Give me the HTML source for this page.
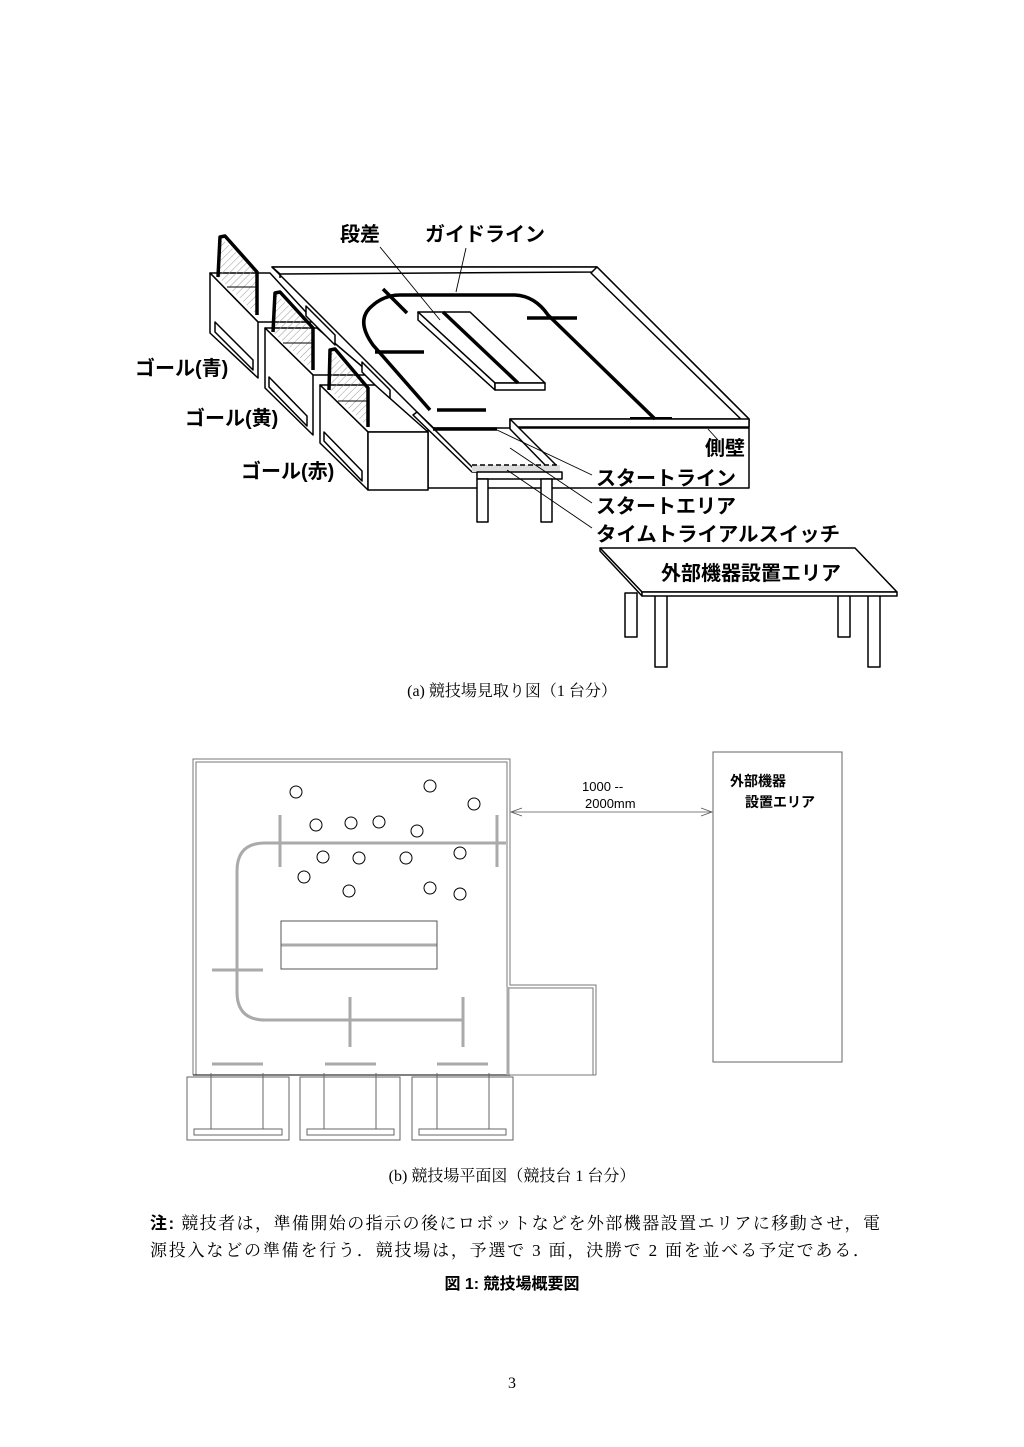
<!DOCTYPE html>
<html><head><meta charset="utf-8"><style>
body{margin:0;background:#fff;}
svg{display:block;}
.g{font-family:"Liberation Sans","Noto Sans CJK JP",sans-serif;font-weight:bold;}
.s{font-family:"Liberation Serif","Noto Serif CJK SC",serif;}
</style></head><body>
<svg width="1024" height="1447" viewBox="0 0 1024 1447" xmlns="http://www.w3.org/2000/svg">
<defs>
<pattern id="h" width="5" height="5" patternUnits="userSpaceOnUse" patternTransform="rotate(45)">
<line x1="0" y1="0" x2="0" y2="5" stroke="#999" stroke-width="1"/></pattern>
</defs>
<g fill="#fff" stroke="#000" stroke-width="1.5" stroke-linejoin="round">
<polygon points="272,267 597,267 749,419 510,419 548,463 472,465 417,412 280,275"/>
<polygon points="272,267 597,267 597,272 280,274"/>
<line x1="280" y1="274" x2="280" y2="278"/>
<polygon points="597,267 749,419 749,427 591,273"/>
<rect x="428" y="428" width="321" height="60"/>
<polygon points="510,419 749,419 749,427 515,427"/>
<line x1="510" y1="419" x2="510" y2="427"/>
<polygon points="417,412 477,472 472,472 413,415"/>
<polygon points="510,419 556,465 548,468 510,429"/>
<rect x="472" y="465" width="88" height="7" fill="#ddd" stroke="none"/>
<line x1="472" y1="465" x2="560" y2="465" stroke-dasharray="5,3"/>
<rect x="477" y="472" width="85" height="7"/>
<rect x="477" y="479" width="11" height="43"/>
<rect x="541" y="479" width="11" height="43"/>
<polygon points="418,312 470,312 545,383 495,383"/>
<polygon points="418,312 495,383 495,390 418,320"/>
<rect x="495" y="383" width="50" height="7"/>
</g>
<g fill="none" stroke="#000" stroke-width="3.5" stroke-linecap="butt">
<line x1="443" y1="312" x2="518" y2="383"/>
<path d="M430,410 L373,345 Q355,320 372,306 Q384,295 400,295 L515,295 Q535,296 548,315 L655,419"/>
<line x1="383" y1="289" x2="407" y2="313"/>
<line x1="375" y1="352" x2="424" y2="352"/>
<line x1="527" y1="318" x2="577" y2="318"/>
<line x1="437" y1="410" x2="486" y2="410"/>
<line x1="433" y1="429" x2="497" y2="429"/>
<line x1="630" y1="418" x2="672" y2="418" stroke-width="2"/>
</g>
<g fill="#fff" stroke="#000" stroke-width="1.5" stroke-linejoin="round">
<polygon points="210,273 270,273 315,322 258,322"/>
<polygon points="210,273 258,322 258,378 210,333"/>
<polygon points="215,322 253,360 253,370 215,332"/>
<polygon points="218,277 220,237 257,272 257,315" fill="url(#h)" stroke="none"/>
<polyline points="227,287 257,287" fill="none" stroke-width="1"/>
<polygon points="265,328 317,328 372,375 313,375"/>
<polygon points="265,328 313,375 313,435 265,388"/>
<polygon points="269,377 307,416 307,426 269,387"/>
<polygon points="273,332 275,293 313,328 313,370" fill="url(#h)" stroke="none"/>
<polyline points="283,343 313,343" fill="none" stroke-width="1"/>
<polygon points="306,306 335,335 335,345 306,316"/>
<polygon points="362,362 390,390 390,400 362,372"/>
<polygon points="320,385 375,385 428,432 368,432"/>
<polygon points="320,385 368,432 368,490 320,443"/>
<rect x="368" y="432" width="60" height="58"/>
<polygon points="324,432 362,471 362,481 324,441"/>
<polygon points="328,388 330,350 368,388 368,427" fill="url(#h)" stroke="none"/>
<polyline points="338,401 368,401" fill="none" stroke-width="1"/>
</g>
<g fill="none" stroke="#000" stroke-width="3.5" stroke-linejoin="round">
<polyline points="218,277 220,237 225,236 257,272 257,315"/>
<polyline points="273,332 275,293 280,292 313,328 313,370"/>
<polyline points="329,390 330,350 335,349 368,388 368,427"/>
</g>
<g stroke="#000" stroke-width="0.9">
<line x1="380" y1="247" x2="440" y2="320"/>
<line x1="466" y1="248" x2="456" y2="292"/>
<line x1="708" y1="429" x2="718" y2="440"/>
<line x1="497" y1="430" x2="592" y2="475"/>
<line x1="510" y1="448" x2="592" y2="503"/>
<line x1="507" y1="470" x2="592" y2="528"/>
</g>
<g class="g" font-size="20" fill="#000">
<text x="340" y="241">段差</text>
<text x="425" y="241">ガイドライン</text>
<text x="135" y="375">ゴール(青)</text>
<text x="185" y="425">ゴール(黄)</text>
<text x="241" y="478">ゴール(赤)</text>
<text x="705" y="455">側壁</text>
<text x="596" y="485">スタートライン</text>
<text x="596" y="513">スタートエリア</text>
<text x="596" y="541" textLength="244" lengthAdjust="spacingAndGlyphs">タイムトライアルスイッチ</text>
</g>
<g fill="#fff" stroke="#000" stroke-width="1.5" stroke-linejoin="round">
<rect x="625" y="593" width="12" height="44"/>
<rect x="838" y="593" width="12" height="44"/>
<rect x="655" y="595" width="12" height="72"/>
<rect x="868" y="595" width="12" height="72"/>
<polygon points="600,548 855,548 897,592 642,592"/>
<polygon points="600,548 642,592 642,596 600,551"/>
<rect x="642" y="592" width="255" height="4"/>
</g>
<text class="g" x="751" y="580" font-size="20" text-anchor="middle">外部機器設置エリア</text>
<text class="s" x="512" y="696" font-size="16" text-anchor="middle">(a) 競技場見取り図（1 台分）</text>

<g fill="none" stroke="#777" stroke-width="1">
<path d="M193,1075 L193,759 L510,759 L510,985 L596,985 L596,1075"/>
<path d="M196,1075 L196,762 L507,762 L507,988 L593,988 L593,1075"/>
<line x1="510" y1="1075" x2="596" y2="1075"/>
<line x1="193" y1="1075" x2="510" y2="1075" stroke="#000"/>
</g>
<g fill="none" stroke="#aaa" stroke-width="3">
<path d="M506,843 L265,843 Q237,843 237,871 L237,992 Q237,1020 265,1020 L463,1020"/>
<line x1="280" y1="815" x2="280" y2="867"/>
<line x1="497" y1="815" x2="497" y2="867"/>
<line x1="212" y1="970" x2="263" y2="970"/>
<line x1="350" y1="997" x2="350" y2="1047"/>
<line x1="463" y1="997" x2="463" y2="1047"/>
<line x1="281" y1="945" x2="437" y2="945"/>
<line x1="508" y1="987" x2="508" y2="1075"/>
<line x1="212" y1="1064" x2="263" y2="1064"/>
<line x1="325" y1="1064" x2="376" y2="1064"/>
<line x1="437" y1="1064" x2="488" y2="1064"/>
</g>
<rect x="281" y="921" width="156" height="48" fill="none" stroke="#555" stroke-width="1"/>
<g fill="none" stroke="#000" stroke-width="1">
<circle cx="296" cy="792" r="6"/><circle cx="430" cy="786" r="6"/><circle cx="474" cy="804" r="6"/>
<circle cx="316" cy="825" r="6"/><circle cx="351" cy="823" r="6"/><circle cx="379" cy="822" r="6"/>
<circle cx="417" cy="831" r="6"/><circle cx="323" cy="857" r="6"/><circle cx="359" cy="858" r="6"/>
<circle cx="406" cy="858" r="6"/><circle cx="460" cy="853" r="6"/><circle cx="304" cy="877" r="6"/>
<circle cx="349" cy="891" r="6"/><circle cx="430" cy="888" r="6"/><circle cx="460" cy="894" r="6"/>
</g>
<g fill="none" stroke="#666" stroke-width="1">
<rect x="187" y="1077" width="102" height="63"/>
<rect x="300" y="1077" width="100" height="63"/>
<rect x="412" y="1077" width="101" height="63"/>
<line x1="211" y1="1073" x2="211" y2="1129"/><line x1="263" y1="1073" x2="263" y2="1129"/>
<line x1="324" y1="1073" x2="324" y2="1129"/><line x1="376" y1="1073" x2="376" y2="1129"/>
<line x1="437" y1="1073" x2="437" y2="1129"/><line x1="489" y1="1073" x2="489" y2="1129"/>
<rect x="194" y="1129" width="88" height="6"/>
<rect x="307" y="1129" width="87" height="6"/>
<rect x="419" y="1129" width="87" height="6"/>
</g>
<g stroke="#555" stroke-width="0.8" fill="none">
<line x1="511" y1="812" x2="712" y2="812"/>
<polyline points="522,808 511,812 522,816"/>
<polyline points="701,808 712,812 701,816"/>
</g>
<rect x="713" y="752" width="129" height="310" fill="none" stroke="#666" stroke-width="1"/>
<g font-family="Liberation Sans,sans-serif" font-size="13" fill="#000">
<text x="582" y="791">1000 --</text>
<text x="585" y="808">2000mm</text>
</g>
<g class="g" font-size="14">
<text x="730" y="786">外部機器</text>
<text x="745" y="807">設置エリア</text>
</g>
<text class="s" x="512" y="1181" font-size="16" text-anchor="middle">(b) 競技場平面図（競技台 1 台分）</text>
<text class="s" x="150" y="1229" font-size="17" textLength="730" lengthAdjust="spacing"><tspan font-weight="bold" font-family="Liberation Sans,Noto Sans CJK JP,sans-serif">注:</tspan> 競技者は，準備開始の指示の後にロボットなどを外部機器設置エリアに移動させ，電</text>
<text class="s" x="150" y="1256" font-size="17" textLength="720" lengthAdjust="spacing">源投入などの準備を行う．競技場は，予選で 3 面，決勝で 2 面を並べる予定である．</text>
<text class="g" x="512" y="1289" font-size="16" text-anchor="middle">図 1: 競技場概要図</text>
<text class="s" x="512" y="1388" font-size="16" text-anchor="middle">3</text>
</svg>
</body></html>
